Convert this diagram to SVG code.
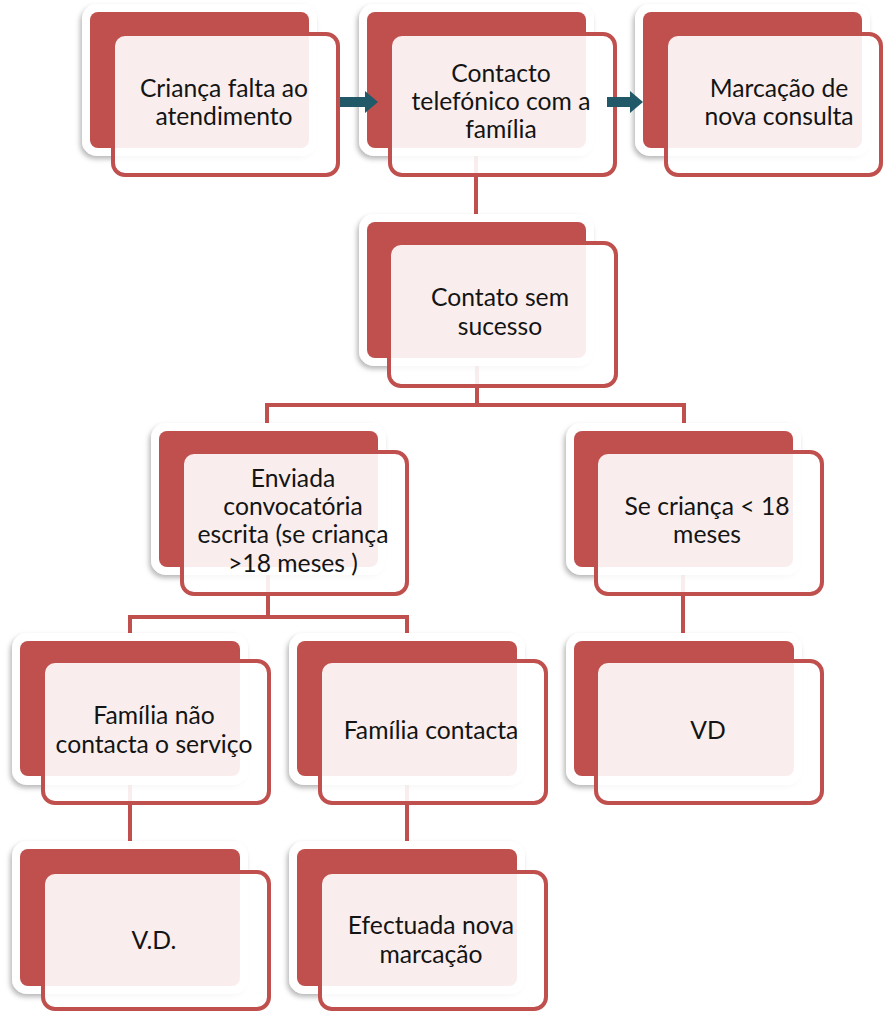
<svg xmlns="http://www.w3.org/2000/svg" width="883" height="1012" viewBox="0 0 883 1012">
<defs>
  <filter id="sh" x="-20%" y="-20%" width="140%" height="140%">
    <feDropShadow dx="-2" dy="3" stdDeviation="2.5" flood-color="#000" flood-opacity="0.28"/>
  </filter>
</defs>
<style>
  .bw { fill: #ffffff; filter: url(#sh); }
  .bk { fill: #C0504D; }
  .fr { fill: #ffffff; fill-opacity: 0.9; stroke: #C0504D; stroke-width: 4; }
  .t { font-family: Lato, "Liberation Sans", sans-serif; font-size: 24.7px; fill: #141414; text-anchor: middle; }
  .c { stroke: #C0504D; stroke-width: 4; fill: none; }
  .ar { fill: #215968; }
</style>
<g id="connectors">
  <path class="c" d="M476 150 V222"/>
  <path class="c" d="M477 357 V405 M267 431 V405 H684 V431"/>
  <path class="c" d="M268 567 V617 M130 641 V617 H407 V641"/>
  <path class="c" d="M683 567 V641"/>
  <path class="c" d="M130 776 V849"/>
  <path class="c" d="M407 776 V849"/>
</g>
<g id="n1">
  <rect class="bw" x="82" y="4" width="235" height="152" rx="15"/>
  <rect class="bk" x="90" y="12" width="219" height="136" rx="8"/>
  <rect class="fr" x="113" y="34" width="225" height="141" rx="12"/>
  <text class="t" x="224" y="97">Criança falta ao</text>
  <text class="t" x="224" y="125">atendimento</text>
</g>
<g id="n2">
  <rect class="bw" x="359" y="4" width="235" height="152" rx="15"/>
  <rect class="bk" x="367" y="12" width="219" height="136" rx="8"/>
  <rect class="fr" x="390" y="34" width="225" height="141" rx="12"/>
  <text class="t" x="501" y="82">Contacto</text>
  <text class="t" x="501" y="110">telefónico com a</text>
  <text class="t" x="501" y="138">família</text>
</g>
<g id="n3">
  <rect class="bw" x="635" y="4" width="235" height="152" rx="15"/>
  <rect class="bk" x="643" y="12" width="219" height="136" rx="8"/>
  <rect class="fr" x="666" y="34" width="215" height="141" rx="12"/>
  <text class="t" x="779" y="97">Marcação de</text>
  <text class="t" x="779" y="125">nova consulta</text>
</g>
<g id="arrows">
  <path class="ar" d="M340 97 H365 V91 L378 102 L365 113 V107 H340 Z"/>
  <path class="ar" d="M607 97 H630 V91 L643 102 L630 113 V107 H607 Z"/>
</g>
<g id="n4">
  <rect class="bw" x="359" y="214" width="235" height="152" rx="15"/>
  <rect class="bk" x="367" y="222" width="219" height="136" rx="8"/>
  <rect class="fr" x="389" y="243" width="227" height="143" rx="12"/>
  <text class="t" x="500" y="306">Contato sem</text>
  <text class="t" x="500" y="335">sucesso</text>
</g>
<g id="n5">
  <rect class="bw" x="151" y="423" width="235" height="152" rx="15"/>
  <rect class="bk" x="159" y="431" width="219" height="136" rx="8"/>
  <rect class="fr" x="182" y="452" width="225" height="142" rx="12"/>
  <text class="t" x="293" y="487">Enviada</text>
  <text class="t" x="293" y="515">convocatória</text>
  <text class="t" x="293" y="543">escrita (se criança</text>
  <text class="t" x="293" y="572">&gt;18 meses )</text>
</g>
<g id="n6">
  <rect class="bw" x="566" y="423" width="235" height="152" rx="15"/>
  <rect class="bk" x="574" y="431" width="219" height="136" rx="8"/>
  <rect class="fr" x="596" y="452" width="226" height="142" rx="12"/>
  <text class="t" x="707" y="515">Se criança &lt; 18</text>
  <text class="t" x="707" y="543">meses</text>
</g>
<g id="n7">
  <rect class="bw" x="12" y="633" width="236" height="152" rx="15"/>
  <rect class="bk" x="20" y="641" width="220" height="135" rx="8"/>
  <rect class="fr" x="43" y="661" width="226" height="142" rx="12"/>
  <text class="t" x="154" y="724">Família não</text>
  <text class="t" x="154" y="753">contacta o serviço</text>
</g>
<g id="n8">
  <rect class="bw" x="289" y="633" width="236" height="152" rx="15"/>
  <rect class="bk" x="297" y="641" width="220" height="135" rx="8"/>
  <rect class="fr" x="320" y="661" width="226" height="142" rx="12"/>
  <text class="t" x="431" y="739">Família contacta</text>
</g>
<g id="n9">
  <rect class="bw" x="566" y="633" width="236" height="152" rx="15"/>
  <rect class="bk" x="574" y="641" width="220" height="135" rx="8"/>
  <rect class="fr" x="596" y="661" width="226" height="142" rx="12"/>
  <text class="t" x="708" y="739">VD</text>
</g>
<g id="n10">
  <rect class="bw" x="12" y="841" width="236" height="153" rx="15"/>
  <rect class="bk" x="20" y="849" width="220" height="137" rx="8"/>
  <rect class="fr" x="43" y="872" width="226" height="137" rx="12"/>
  <text class="t" x="154" y="949">V.D.</text>
</g>
<g id="n11">
  <rect class="bw" x="289" y="841" width="236" height="153" rx="15"/>
  <rect class="bk" x="297" y="849" width="220" height="137" rx="8"/>
  <rect class="fr" x="320" y="872" width="226" height="137" rx="12"/>
  <text class="t" x="431" y="934">Efectuada nova</text>
  <text class="t" x="431" y="963">marcação</text>
</g>
</svg>
